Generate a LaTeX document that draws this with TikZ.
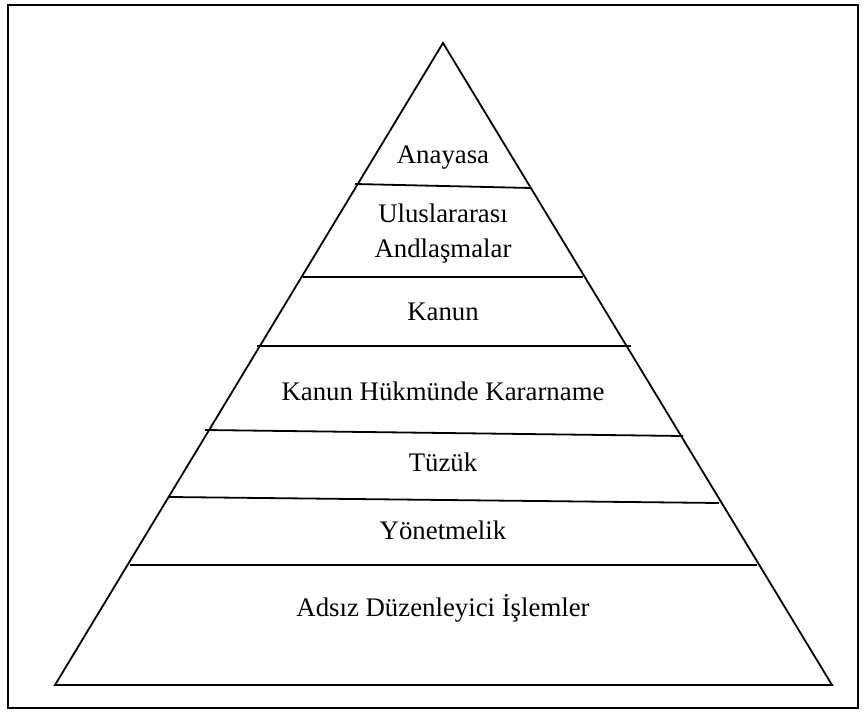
\documentclass[tikz,border=0pt]{standalone}
\usepackage{fontspec}
\setmainfont{Liberation Serif}
\begin{document}
\begin{tikzpicture}[x=0.5pt,y=-0.5pt,line width=0.9pt,
    font=\fontsize{13.4}{17.5}\selectfont]
        \useasboundingbox (0,0) rectangle (867,715);
        % Frame
        \draw[line width=0.75pt] (8,5) rectangle (858,708);

        % Pyramid
        \coordinate (apex) at (443,43);
        \coordinate (baseL) at (55,685);
        \coordinate (baseR) at (832,685);
        \draw (apex) -- (baseL) -- (baseR) -- cycle;

        % Layers
        \draw (355,184) -- (531,188);
        \draw (303,277) -- (583,277);
        \draw (257,346) -- (631,346);
        \draw (205,430) -- (683,436);
        \draw (169,497) -- (719,503);
        \draw (130,565) -- (757,565);

        % Nodes
        \node at (443,158) (anayasa) {Anayasa};
        \node at (443,234) [align=center] (andlasma) {Uluslararası\\Andlaşmalar};
        \node at (443,312) (kanun) {Kanun};
        \node at (443,391) (khk) {Kanun Hükmünde Kararname};
        \node at (443,462) (tuzuk) {Tüzük};
        \node at (443,530) (yonetmelik) {Yönetmelik};
        \node at (443,608) (adsiz) {Adsız Düzenleyici İşlemler};

    \end{tikzpicture}
\end{document}
